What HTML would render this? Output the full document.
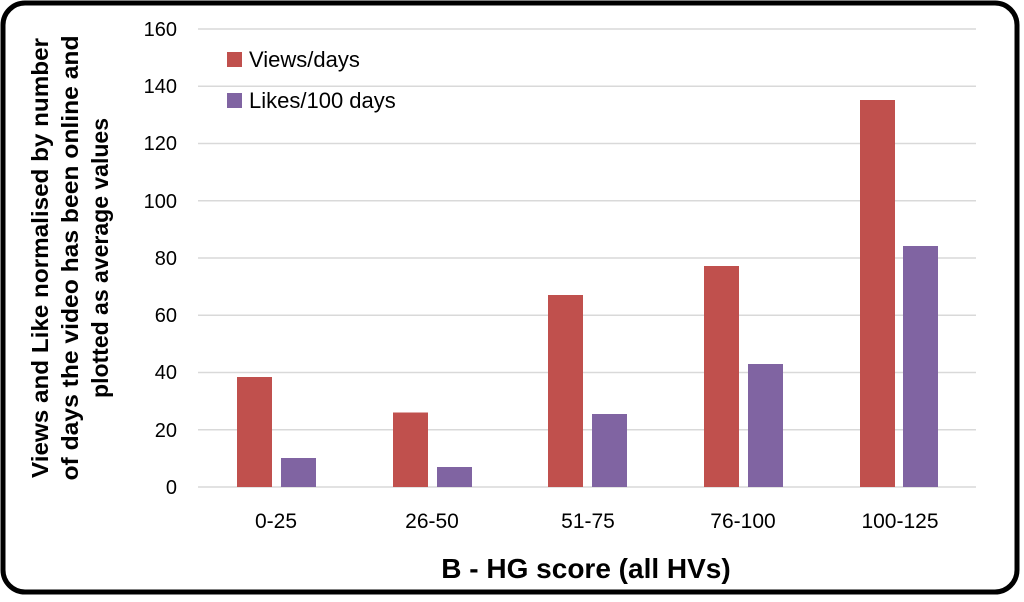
<!DOCTYPE html>
<html><head><style>
html,body{margin:0;padding:0;background:#fff;}
</style></head><body>
<svg width="1024" height="597" xmlns="http://www.w3.org/2000/svg" font-family="Liberation Sans, sans-serif">
<rect x="3" y="3" width="1014" height="589" rx="22" ry="22" fill="#fff" stroke="#000" stroke-width="5"/>
<g stroke="#d9d9d9" stroke-width="1.5">
<line x1="198" x2="976" y1="29" y2="29"/>
<line x1="198" x2="976" y1="86.25" y2="86.25"/>
<line x1="198" x2="976" y1="143.5" y2="143.5"/>
<line x1="198" x2="976" y1="200.75" y2="200.75"/>
<line x1="198" x2="976" y1="258" y2="258"/>
<line x1="198" x2="976" y1="315.25" y2="315.25"/>
<line x1="198" x2="976" y1="372.5" y2="372.5"/>
<line x1="198" x2="976" y1="429.75" y2="429.75"/>
<line x1="198" x2="976" y1="487" y2="487"/>
</g>
<g font-size="20" fill="#000" text-anchor="end">
<text x="177" y="36">160</text>
<text x="177" y="93">140</text>
<text x="177" y="150">120</text>
<text x="177" y="208">100</text>
<text x="177" y="265">80</text>
<text x="177" y="322">60</text>
<text x="177" y="379">40</text>
<text x="177" y="437">20</text>
<text x="177" y="494">0</text>
</g>
<g fill="#c0504d">
<rect x="237" y="377" width="35" height="110"/>
<rect x="393" y="412.5" width="35" height="74.5"/>
<rect x="548" y="295" width="35" height="192"/>
<rect x="704" y="266" width="35" height="221"/>
<rect x="860" y="100" width="35" height="387"/>
</g>
<g fill="#8064a2">
<rect x="281" y="458" width="35" height="29"/>
<rect x="437" y="467" width="35" height="20"/>
<rect x="592" y="414" width="35" height="73"/>
<rect x="748" y="364" width="35" height="123"/>
<rect x="903" y="246" width="35" height="241"/>
</g>
<g font-size="21" fill="#000" text-anchor="middle">
<text x="276" y="528">0-25</text>
<text x="432" y="528">26-50</text>
<text x="588" y="528">51-75</text>
<text x="743" y="528">76-100</text>
<text x="900" y="528">100-125</text>
</g>
<rect x="227" y="52" width="15" height="15" fill="#c0504d"/>
<text x="249" y="67" font-size="22">Views/days</text>
<rect x="227" y="93" width="15" height="15" fill="#8064a2"/>
<text x="249" y="108" font-size="22">Likes/100 days</text>
<text x="586" y="578" font-size="28" font-weight="bold" text-anchor="middle">B - HG score (all HVs)</text>
<g transform="translate(70,258) rotate(-90)" font-size="23" font-weight="bold" text-anchor="middle">
<text x="0" y="-22" textLength="440" lengthAdjust="spacingAndGlyphs">Views and Like normalised by number</text>
<text x="0" y="8" textLength="445" lengthAdjust="spacingAndGlyphs">of days the video has been online and</text>
<text x="0" y="38">plotted as average values</text>
</g>
</svg>
</body></html>
